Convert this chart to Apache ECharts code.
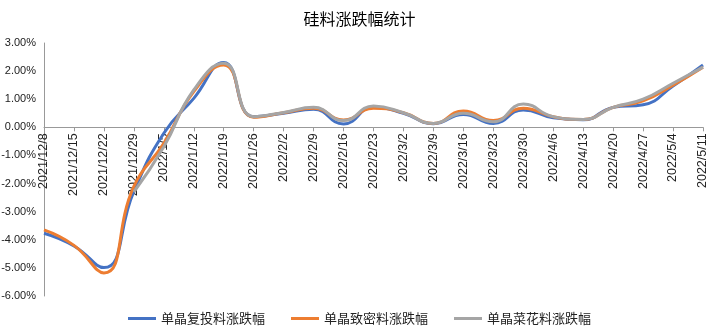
<!DOCTYPE html>
<html>
<head>
<meta charset="utf-8">
<script src="https://cdn.jsdelivr.net/npm/echarts@6/dist/echarts.min.js"></script>
<style>
  html, body { margin: 0; padding: 0; background: #fff; }
  #chart { width: 719px; height: 336px; }
</style>
</head>
<body>
<div id="chart"></div>
<script>
// Weekly dates
const dates = [
  '2021/12/8', '2021/12/15', '2021/12/22', '2021/12/29', '2022/1/5', '2022/1/12',
  '2022/1/19', '2022/1/26', '2022/2/2', '2022/2/9', '2022/2/16', '2022/2/23',
  '2022/3/2', '2022/3/9', '2022/3/16', '2022/3/23', '2022/3/30', '2022/4/6',
  '2022/4/13', '2022/4/20', '2022/4/27', '2022/5/4', '2022/5/11'
];

// Weekly price change, percent
const fuTou = [
  -3.77, -4.22, -4.99, -2.28, -0.21, 1.03, 2.31, 0.38, 0.50, 0.64, 0.12, 0.72,
  0.50, 0.13, 0.46, 0.14, 0.62, 0.34, 0.27, 0.71, 0.80, 1.47, 2.22
];
const zhiMi = [
  -3.65, -4.20, -5.18, -2.10, -0.57, 1.27, 2.22, 0.36, 0.52, 0.68, 0.26, 0.68,
  0.52, 0.14, 0.58, 0.24, 0.68, 0.38, 0.28, 0.71, 0.94, 1.50, 2.14
];
const caiHua = [
  null, null, null, -2.30, -0.69, 1.33, 2.28, 0.38, 0.53, 0.71, 0.24, 0.76,
  0.52, 0.14, 0.50, 0.20, 0.83, 0.38, 0.28, 0.71, 1.00, 1.57, 2.14
];

const seriesNames = ['单晶复投料涨跌幅', '单晶致密料涨跌幅', '单晶菜花料涨跌幅'];
const seriesColors = ['#4472C4', '#ED7D31', '#A5A5A5'];

// Y axis range
const yMin = -6, yMax = 3, yStep = 1;

// Plot area margins
const W = 719, H = 336;
const gridBox = { left: 44, right: 16, top: 43, bottom: 40 };
const plotHeight = H - gridBox.top - gridBox.bottom;
// The date axis sits on the 0% line: shift it up from the bottom edge
const zeroLift = (0 - yMin) / (yMax - yMin) * plotHeight;

const chart = echarts.init(document.getElementById('chart'));
const cjk = '"Noto Sans CJK SC", "Noto Sans", sans-serif';
const latin = '"Liberation Sans", Arial, sans-serif';

const makeSeries = (name, data, color) => ({
  name: name,
  type: 'line',
  data: data,
  smooth: true,
  symbol: 'none',
  connectNulls: false,
  lineStyle: { width: 3, color: color },
  itemStyle: { color: color }
});

chart.setOption({
  animation: false,
  title: {
    text: '硅料涨跌幅统计',
    left: 'center',
    top: 6,
    textStyle: { fontFamily: cjk, fontSize: 16, fontWeight: 'normal', color: '#000' }
  },
  legend: {
    bottom: 6,
    left: 'center',
    icon: 'rect',
    itemWidth: 28,
    itemHeight: 3,
    itemGap: 26,
    textStyle: { fontFamily: cjk, fontSize: 13, color: '#222' },
    data: seriesNames
  },
  grid: Object.assign({ containLabel: false, outerBoundsMode: 'none' }, gridBox),
  xAxis: {
    type: 'category',
    data: dates,
    boundaryGap: false,
    position: 'bottom',
    offset: -zeroLift,
    axisLine: { show: true, onZero: false, lineStyle: { color: '#999', width: 1 } },
    axisTick: { show: true, alignWithLabel: true, length: 4, lineStyle: { color: '#999' } },
    axisLabel: {
      interval: 0,
      rotate: 90,
      fontFamily: latin,
      fontSize: 12.5,
      color: '#222',
      margin: 6
    },
    splitLine: { show: false }
  },
  yAxis: {
    type: 'value',
    min: yMin,
    max: yMax,
    interval: yStep,
    axisLine: { show: true, lineStyle: { color: '#999', width: 1 } },
    axisTick: { show: false },
    axisLabel: {
      formatter: v => v.toFixed(2) + '%',
      fontFamily: latin,
      fontSize: 11,
      color: '#222',
      margin: 8
    },
    splitLine: { show: false }
  },
  series: [
    makeSeries(seriesNames[0], fuTou, seriesColors[0]),
    makeSeries(seriesNames[1], zhiMi, seriesColors[1]),
    makeSeries(seriesNames[2], caiHua, seriesColors[2])
  ]
});
</script>
</body>
</html>
